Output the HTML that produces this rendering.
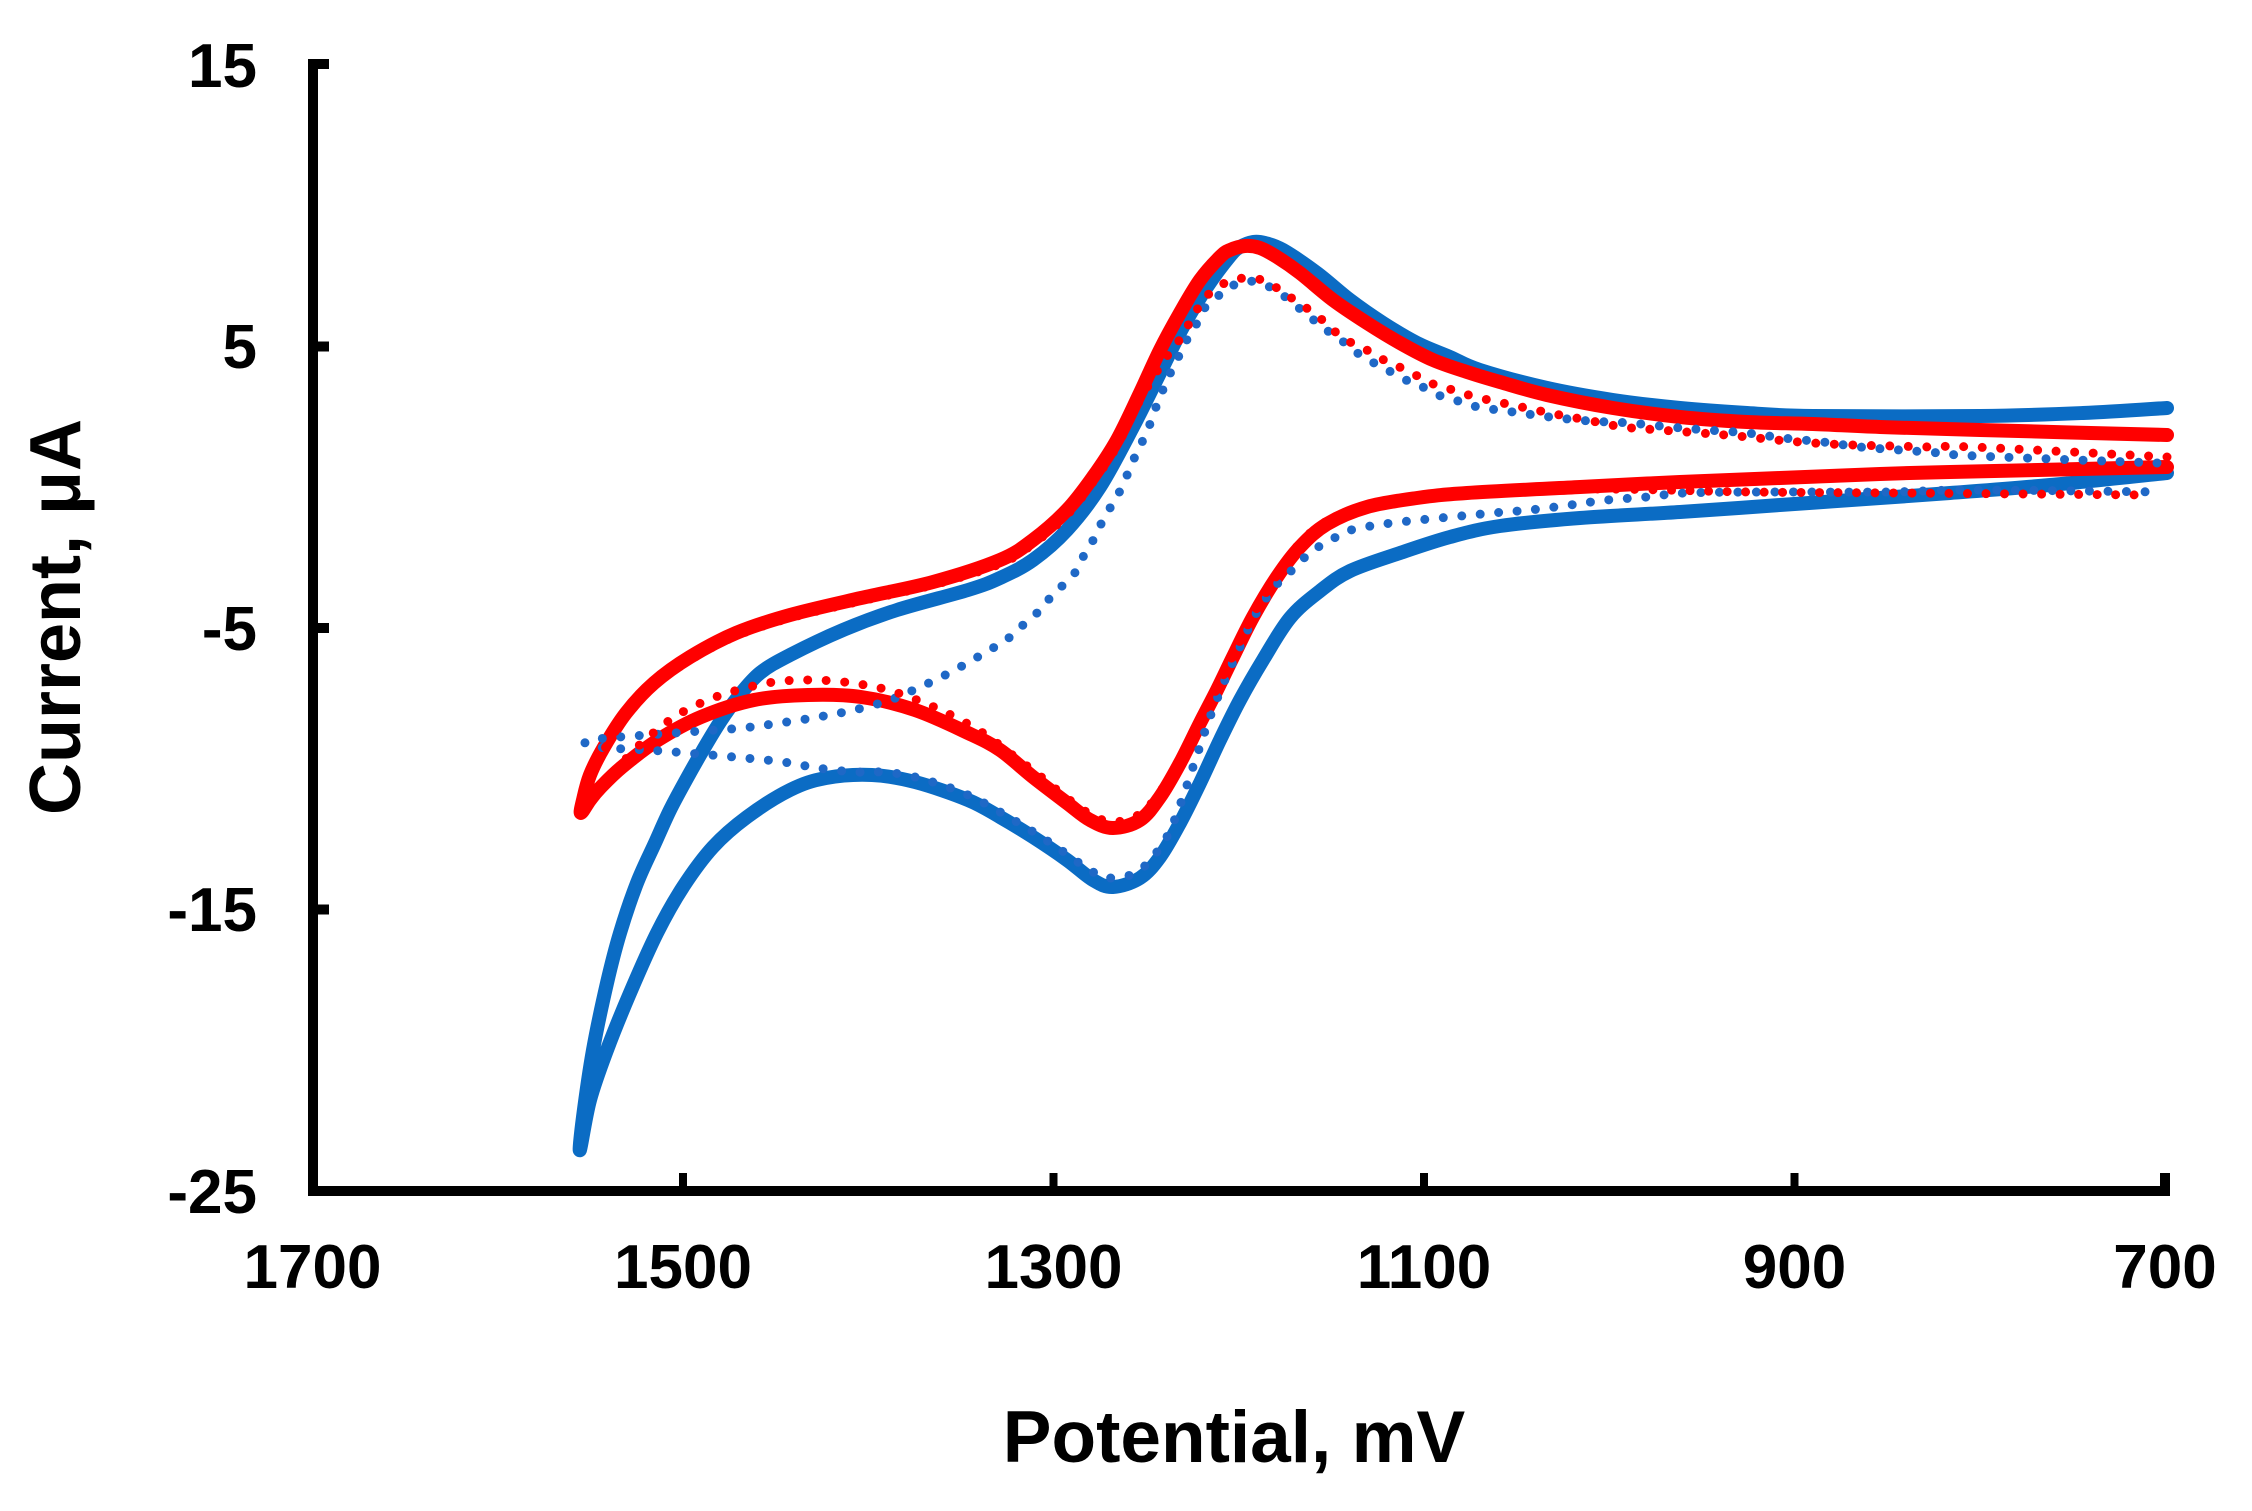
<!DOCTYPE html>
<html>
<head>
<meta charset="utf-8">
<style>
  html,body{margin:0;padding:0;background:#fff;}
  svg{display:block;}
  text{font-family:"Liberation Sans",Arial,sans-serif;font-weight:bold;fill:#000;}
</style>
</head>
<body>
<svg id="chart" width="2252" height="1511" viewBox="0 0 2252 1511" xmlns="http://www.w3.org/2000/svg">
  <rect x="0" y="0" width="2252" height="1511" fill="#fff"/>

  <!-- Series -->
  <g fill="none" stroke-linejoin="round" stroke-linecap="round">
    <!-- blue solid -->
    <polyline stroke="#0b6cc4" stroke-width="14" points="2167,408 2083,413 1980,416 1813,416 1747,413 1680,408 1613,400 1547,388 1480,370 1450,357 1417,343 1383,323 1350,300 1317,273 1283,250 1265,243 1253,242 1240,247 1230,256 1207,287 1183,327 1160,373 1133,427 1100,487 1067,530 1033,560 1000,578 968,590 897,610 843,630 790,655 760,673 738,697 720,722 703,750 686,780 670,810 655,843 637,883 620,933 607,983 593,1050 583,1117 580,1150 590,1100 607,1050 630,993 657,933 683,887 713,847 747,817 790,790 826,778 872,775 915,782 968,800 1000,817 1033,837 1067,860 1093,880 1113,887 1140,878 1160,857 1180,823 1200,783 1220,740 1240,700 1263,660 1290,618 1320,591 1350,571 1400,553 1450,537 1500,526 1580,518 1680,512 1780,505 1880,498 1950,493 2050,485 2167,473"/>
    <!-- red solid -->
    <polyline stroke="#ff0000" stroke-width="14" points="2167,435 1980,430 1880,427 1813,424 1747,422 1680,417 1613,408 1547,395 1500,382 1467,372 1433,360 1400,343 1367,323 1333,300 1300,273 1277,257 1260,248 1245,246 1230,250 1220,257 1200,280 1180,313 1160,350 1140,393 1117,440 1093,477 1067,510 1033,540 1000,560 933,582 861,598 790,615 736,633 690,657 654,683 626,713 604,747 590,775 583,800 581,813 590,800 600,788 622,767 658,740 701,717 754,700 808,695 861,697 915,710 968,733 1000,750 1033,777 1067,803 1090,820 1113,828 1140,820 1160,797 1180,763 1200,723 1217,690 1233,657 1253,617 1277,577 1300,547 1327,524 1367,507 1417,498 1467,493 1580,487 1680,482 1780,478 1880,474 1950,472 2167,467"/>
    <!-- blue dotted -->
    <polyline stroke="#1f68c6" stroke-width="9" stroke-dasharray="0 18.5" points="2157,463 1977,456 1940,453 1900,450 1860,447 1823,442 1783,438 1747,433 1707,430 1670,427 1630,423 1590,421 1550,417 1513,412 1478,407 1462,402 1443,397 1425,388 1410,382 1393,373 1378,365 1363,357 1350,347 1337,337 1322,327 1308,315 1295,305 1280,293 1265,285 1247,281 1230,287 1217,297 1203,310 1195,327 1185,343 1177,360 1168,378 1160,397 1153,415 1147,432 1138,450 1130,468 1122,487 1113,503 1103,520 1095,537 1085,553 1077,570 1063,585 1050,598 1038,612 1023,625 1010,637 993,648 951,672 918,688 890,700 854,710 818,717 780,723 742,728 701,731 647,735 607,738 587,741 588,745 608,748 647,750 687,753 745,758 783,762 818,768 854,772 880,772 915,777 968,795 1022,825 1058,848 1093,872 1113,878 1140,870 1165,840 1180,805 1197,755 1210,717 1225,680 1240,647 1257,612 1278,583 1290,572 1302,560 1313,550 1328,542 1343,533 1360,528 1400,522 1493,513 1530,510 1570,505 1607,500 1647,497 1685,493 1763,492 1887,492 1973,490 2163,492"/>
    <!-- red dotted -->
    <polyline stroke="#ff0000" stroke-width="9" stroke-dasharray="0 18.5" points="2167,457 1973,447 1933,447 1893,446 1853,445 1813,443 1777,440 1737,436 1700,433 1660,430 1623,427 1587,420 1550,413 1480,398 1460,392 1443,387 1428,382 1412,373 1395,365 1380,358 1365,349 1350,342 1333,330 1320,318 1305,307 1290,297 1277,288 1262,280 1245,278 1227,282 1210,293 1200,305 1190,322 1178,342 1163,362 1140,400 1117,446 1093,482 1067,515 1033,544 1000,564 933,585 861,601 790,618 736,636 690,660 654,686 626,716 604,750 590,778 583,800 585,806 600,787 620,765 645,740 676,716 708,700 738,690 774,682 813,680 852,683 888,690 922,702 951,715 983,733 1015,757 1040,776 1067,798 1090,814 1113,822 1140,814 1160,792 1180,759 1200,720 1217,688 1233,655 1253,615 1277,575 1300,543 1327,521 1367,505 1417,496 1467,492 1600,489 1750,492 1900,493 2150,495"/>
  </g>

  <!-- Axes -->
  <g stroke="#000" fill="none">
    <path d="M329,64 H313 V1191 H2165 V1173" stroke-width="10" stroke-linejoin="miter"/>
    <line x1="313" y1="346.5" x2="329" y2="346.5" stroke-width="10"/>
    <line x1="313" y1="628" x2="329" y2="628" stroke-width="10"/>
    <line x1="313" y1="909.5" x2="329" y2="909.5" stroke-width="10"/>
    <line x1="683" y1="1191" x2="683" y2="1173" stroke-width="8"/>
    <line x1="1053.5" y1="1191" x2="1053.5" y2="1173" stroke-width="8"/>
    <line x1="1424" y1="1191" x2="1424" y2="1173" stroke-width="8"/>
    <line x1="1794.5" y1="1191" x2="1794.5" y2="1173" stroke-width="8"/>
  </g>

  <!-- Y tick labels -->
  <g font-size="62" text-anchor="end">
    <text x="257" y="87">15</text>
    <text x="257" y="368">5</text>
    <text x="257" y="650">-5</text>
    <text x="257" y="931">-15</text>
    <text x="257" y="1213">-25</text>
  </g>

  <!-- X tick labels -->
  <g font-size="62" text-anchor="middle">
    <text x="312.5" y="1288">1700</text>
    <text x="683" y="1288">1500</text>
    <text x="1053.5" y="1288">1300</text>
    <text x="1424" y="1288">1100</text>
    <text x="1794.5" y="1288">900</text>
    <text x="2165" y="1288">700</text>
  </g>

  <!-- Axis titles -->
  <text x="1234" y="1462" font-size="73" text-anchor="middle">Potential, mV</text>
  <text transform="translate(80,617) rotate(-90)" font-size="72" text-anchor="middle">Current, μA</text>
</svg>
<script>
(function(){
  var NS = "http://www.w3.org/2000/svg";
  var pls = document.querySelectorAll('#chart polyline');
  for (var k = 0; k < pls.length; k++) {
    var pl = pls[k];
    var pts = pl.getAttribute('points').trim().split(/\s+/).map(function(p){return p.split(',').map(Number);});
    if (pts.length < 3) continue;
    var d = 'M' + pts[0][0] + ',' + pts[0][1];
    for (var i = 0; i < pts.length - 1; i++) {
      var p0 = pts[i-1] || pts[i], p1 = pts[i], p2 = pts[i+1], p3 = pts[i+2] || pts[i+1];
      var c1x = p1[0] + (p2[0]-p0[0])/6, c1y = p1[1] + (p2[1]-p0[1])/6;
      var c2x = p2[0] - (p3[0]-p1[0])/6, c2y = p2[1] - (p3[1]-p1[1])/6;
      d += ' C' + c1x.toFixed(2) + ',' + c1y.toFixed(2) + ' ' + c2x.toFixed(2) + ',' + c2y.toFixed(2) + ' ' + p2[0] + ',' + p2[1];
    }
    var path = document.createElementNS(NS, 'path');
    for (var a = 0; a < pl.attributes.length; a++) {
      var at = pl.attributes[a];
      if (at.name !== 'points') path.setAttribute(at.name, at.value);
    }
    path.setAttribute('d', d);
    pl.parentNode.replaceChild(path, pl);
  }
})();
</script>
</body>
</html>
